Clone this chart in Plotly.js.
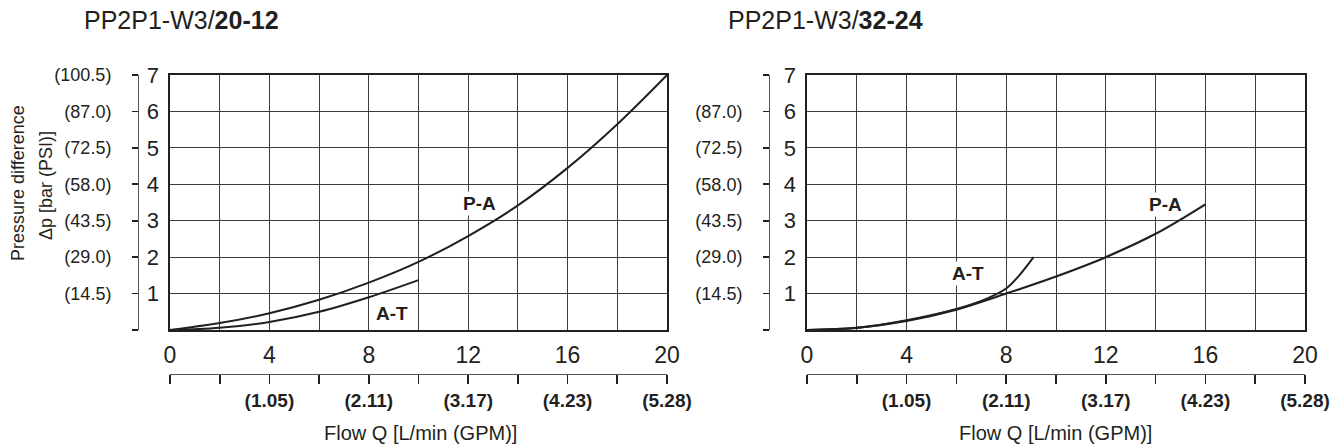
<!DOCTYPE html>
<html>
<head>
<meta charset="utf-8">
<script src="https://cdn.plot.ly/plotly-3.0.1.min.js"></script>
<style>html,body{margin:0;padding:0;background:#fff;}#chart{width:1344px;height:448px;}</style>
</head>
<body>
<div id="chart"></div>
<script>
// ---- data ----
var chartTitles = ['PP2P1-W3/<b>20-12</b>', 'PP2P1-W3/<b>32-24</b>'];
var flowTicks = [0, 2, 4, 6, 8, 10, 12, 14, 16, 18, 20];
var flowTickText = ['0', '', '4', '', '8', '', '12', '', '16', '', '20'];
var gpmTickText = ['', '', '(1.05)', '', '(2.11)', '', '(3.17)', '', '(4.23)', '', '(5.28)'];
var barTicks = [0, 1, 2, 3, 4, 5, 6, 7];
var barTickText = ['', '1', '2', '3', '4', '5', '6', '7'];
var psiTickTextLeft = ['', '(14.5)', '(29.0)', '(43.5)', '(58.0)', '(72.5)', '(87.0)', '(100.5)'];
var psiTickTextRight = ['', '(14.5)', '(29.0)', '(43.5)', '(58.0)', '(72.5)', '(87.0)', ''];

// left chart (20-12)
var leftPA_Q = [0, 2, 4, 6, 8, 10, 12, 14, 16, 18, 20];
var leftPA_dp = [0, 0.19, 0.46, 0.83, 1.3, 1.87, 2.58, 3.42, 4.45, 5.65, 7.0];
var leftAT_Q = [0, 2, 4, 6, 8, 10];
var leftAT_dp = [0, 0.06, 0.22, 0.5, 0.9, 1.37];

// right chart (32-24)
var rightPA_Q = [0, 2, 4, 6, 8, 10, 12, 14, 16];
var rightPA_dp = [0, 0.06, 0.25, 0.56, 1.0, 1.47, 2.0, 2.64, 3.45];
var rightAT_Q = [0, 2, 4, 6, 7, 8, 8.5, 9.1];
var rightAT_dp = [0, 0.06, 0.27, 0.58, 0.8, 1.14, 1.48, 2.0];

// curve labels: [Q, dp]
var leftPALabel = [12.45, 3.46], leftATLabel = [8.93, 0.46];
var rightPALabel = [14.38, 3.45], rightATLabel = [6.47, 1.55];

// ---- styles ----
var INK = '#231f20';
var SANS = '"Liberation Sans", Arial, Helvetica, sans-serif';
var W = 1344, H = 448;
function px(v) { return v / W; }
function py(v) { return (H - v) / H; }

var yDom = [py(330), py(75)];
var leftDom = [px(170), px(667)];
var rightDom = [px(807), px(1305)];

function mainX(dom, anchor) {
  return {
    domain: dom, anchor: anchor, range: [0, 20],
    tickmode: 'array', tickvals: flowTicks, ticktext: flowTickText,
    showgrid: true, gridcolor: '#3c3c3c', gridwidth: 1,
    showline: true, mirror: true, linecolor: INK, linewidth: 1.6,
    ticks: '', zeroline: false, fixedrange: true,
    tickfont: {family: SANS, size: 23, color: INK},
    ticklabelstandoff: 4
  };
}
function mainY(anchor) {
  return {
    domain: yDom, anchor: anchor, range: [0, 7],
    tickmode: 'array', tickvals: barTicks, ticktext: barTickText,
    showgrid: true, gridcolor: '#3c3c3c', gridwidth: 1,
    showline: true, mirror: true, linecolor: INK, linewidth: 1.6,
    ticks: '', zeroline: false, fixedrange: true,
    tickfont: {family: SANS, size: 22, color: INK},
    ticklabelstandoff: 5
  };
}
function psiY(over, pos, text, standoff) {
  return {
    overlaying: over, anchor: 'free', position: pos, side: 'left', range: [0, 7],
    tickmode: 'array', tickvals: barTicks, ticktext: text,
    showgrid: false, zeroline: false, showline: true, linecolor: '#555', linewidth: 1.4,
    ticks: 'outside', ticklen: 6, tickwidth: 1.6, tickcolor: INK, fixedrange: true,
    tickfont: {family: SANS, size: 18, color: INK},
    ticklabelstandoff: standoff
  };
}
function gpmX(over) {
  return {
    overlaying: over, anchor: 'free', position: py(374), side: 'bottom', range: [0, 20],
    tickmode: 'array', tickvals: flowTicks,
    ticktext: gpmTickText.map(function (t) { return t ? '<b>' + t + '</b>' : ''; }),
    showgrid: false, zeroline: false, showline: true, linecolor: '#555', linewidth: 1.4,
    ticks: 'outside', ticklen: 9, tickwidth: 1.6, tickcolor: INK, fixedrange: true,
    tickfont: {family: SANS, size: 19, color: INK},
    ticklabelstandoff: 0
  };
}

function curve(x, y, xa, ya, w) {
  return {x: x, y: y, xaxis: xa, yaxis: ya, type: 'scatter', mode: 'lines',
    line: {color: INK, width: w || 2, shape: 'spline', smoothing: 1}, hoverinfo: 'skip'};
}
// invisible carrier traces so that the secondary (PSI / GPM) axes are drawn
function carrier(x, y, xa, ya) {
  return {x: x, y: y, xaxis: xa, yaxis: ya, type: 'scatter', mode: 'lines',
    line: {color: 'rgba(0,0,0,0)', width: 0}, opacity: 0, hoverinfo: 'skip'};
}

var data = [
  curve(leftPA_Q, leftPA_dp, 'x', 'y'),
  curve(leftAT_Q, leftAT_dp, 'x', 'y'),
  curve(rightPA_Q, rightPA_dp, 'x2', 'y2', 2.2),
  curve(rightAT_Q, rightAT_dp, 'x2', 'y2', 2),
  carrier(leftPA_Q, leftPA_dp, 'x', 'y3'),
  carrier(leftPA_Q, leftPA_dp, 'x3', 'y'),
  carrier(rightPA_Q, rightPA_dp, 'x2', 'y4'),
  carrier(rightPA_Q, rightPA_dp, 'x4', 'y2')
];

function curveLabel(txt, pos, xa, ya) {
  return {text: '<b>' + txt + '</b>', x: pos[0], y: pos[1], xref: xa, yref: ya,
    showarrow: false, bgcolor: '#ffffff', borderpad: 1,
    font: {family: SANS, size: 19, color: INK}};
}
function paperText(txt, x, y, xanchor, font, angle) {
  return {text: txt, x: x, y: y, xref: 'paper', yref: 'paper', xanchor: xanchor, yanchor: 'middle',
    showarrow: false, font: font, textangle: angle || 0};
}

var titleFont = {family: SANS, size: 25, color: INK};
var axisTitleFont = {family: SANS, size: 20, color: INK};
var yTitleFont = {family: SANS, size: 18, color: INK};

var annotations = [
  paperText(chartTitles[0], px(82), py(20), 'left', titleFont),
  paperText(chartTitles[1], px(726), py(20), 'left', titleFont),
  paperText('Flow Q [L/min (GPM)]', px(420), py(433), 'center', axisTitleFont),
  paperText('Flow Q [L/min (GPM)]', px(1055), py(433), 'center', axisTitleFont),
  paperText('Pressure difference', px(18), py(183), 'center', yTitleFont, -90),
  paperText('\u0394p [bar (PSI)]', px(46), py(186), 'center', yTitleFont, -90),
  curveLabel('P-A', leftPALabel, 'x', 'y'),
  curveLabel('A-T', leftATLabel, 'x', 'y'),
  curveLabel('P-A', rightPALabel, 'x2', 'y2'),
  curveLabel('A-T', rightATLabel, 'x2', 'y2')
];

var layout = {
  width: W, height: H,
  margin: {l: 0, r: 0, t: 0, b: 0},
  paper_bgcolor: '#ffffff', plot_bgcolor: '#ffffff',
  showlegend: false,
  xaxis: mainX(leftDom, 'y'),
  yaxis: mainY('x'),
  xaxis2: mainX(rightDom, 'y2'),
  yaxis2: mainY('x2'),
  yaxis3: psiY('y', px(138), psiTickTextLeft, 17),
  yaxis4: psiY('y2', px(769), psiTickTextRight, 17),
  xaxis3: gpmX('x'),
  xaxis4: gpmX('x2'),
  annotations: annotations
};

Plotly.newPlot('chart', data, layout, {staticPlot: true, displayModeBar: false});
</script>
</body>
</html>
